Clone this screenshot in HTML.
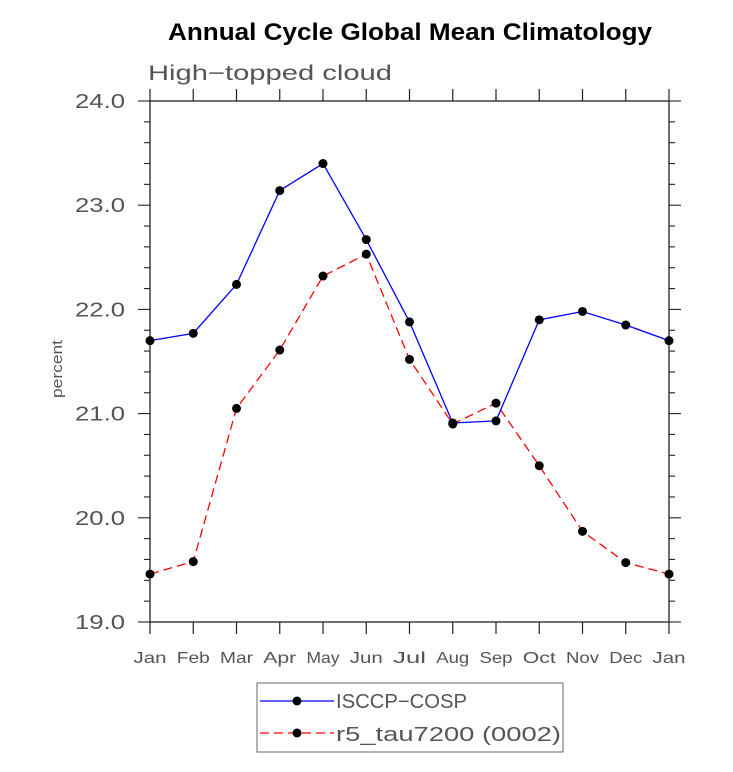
<!DOCTYPE html>
<html><head><meta charset="utf-8"><style>
body{margin:0;background:#fff;}
svg{display:block;font-family:"Liberation Sans",sans-serif;}
</style></head><body>
<svg id="c" width="733" height="772">
<text x="168" y="40" textLength="484" lengthAdjust="spacingAndGlyphs" font-size="24" font-weight="bold">Annual Cycle Global Mean Climatology</text>
<text x="148" y="80" textLength="244" lengthAdjust="spacingAndGlyphs" font-size="21" fill="#555">High−topped cloud</text>
<text transform="translate(62,369) rotate(-90)" text-anchor="middle" font-size="15" fill="#555" textLength="58" lengthAdjust="spacingAndGlyphs">percent</text>
<g id="ax"></g><g id="ser"></g>
<rect x="257" y="683" width="306" height="69" fill="none" stroke="#666"/>
<g>
<line x1="260" y1="701" x2="334" y2="701" stroke="#00f" stroke-width="1.3"/>
<circle cx="297" cy="701" r="4.5" fill="#000"/>
<text x="336" y="708" font-size="20" fill="#555" textLength="131" lengthAdjust="spacingAndGlyphs">ISCCP−COSP</text></g>
<g>
<line x1="260" y1="733" x2="334" y2="733" stroke="#f00" stroke-width="1.3" stroke-dasharray="9,5"/>
<circle cx="297" cy="733" r="4.5" fill="#000"/>
<text x="336" y="741" font-size="20" fill="#555" textLength="225" lengthAdjust="spacingAndGlyphs">r5_tau7200 (0002)</text></g>
</svg>
<script>
const months=["Jan","Feb","Mar","Apr","May","Jun","Jul","Aug","Sep","Oct","Nov","Dec","Jan"];
const isccp=[21.70,21.77,22.24,23.14,23.40,22.67,21.88,20.91,20.93,21.90,21.98,21.85,21.70];
const r5=[19.46,19.58,21.05,21.61,22.32,22.53,21.52,20.90,21.10,20.50,19.87,19.57,19.46];
const yTicks=[19.0,20.0,21.0,22.0,23.0,24.0];
const NS="http://www.w3.org/2000/svg";
const L=150,R=669,T=101,B=622,ymin=19,ymax=24;
const xs=i=>L+i*(R-L)/12;
const ys=v=>B-(v-ymin)/(ymax-ymin)*(B-T);
function mk(t,a,p){const e=document.createElementNS(NS,t);for(const k in a)e.setAttribute(k,a[k]);p.appendChild(e);return e;}
const ax=document.getElementById('ax'),ser=document.getElementById('ser');
const fr=mk('rect',{x:L,y:T,width:R-L,height:B-T,fill:'none',stroke:'#222','stroke-width':1.3},ax);


months.forEach((m,i)=>{
  const x=xs(i);
  mk('line',{x1:x,y1:B,x2:x,y2:B+12,stroke:'#222','stroke-width':1.2},ax);
  mk('line',{x1:x,y1:T,x2:x,y2:T-12,stroke:'#222','stroke-width':1.2},ax);
  const t=mk('text',{x:x,y:B+41,'text-anchor':'middle','font-size':16,fill:'#555',textLength:m.length*11,lengthAdjust:'spacingAndGlyphs'},ax);
  t.textContent=m;
  
  
});
for(let v=ymin;v<=ymax+1e-9;v+=0.2){
  const y=ys(v),maj=Math.abs(v-Math.round(v))<1e-6;
  const len=maj?12:6;
  mk('line',{x1:L-len,y1:y,x2:L,y2:y,stroke:'#222','stroke-width':1.1},ax);
  mk('line',{x1:R+len,y1:y,x2:R,y2:y,stroke:'#222','stroke-width':1.1},ax);
}
yTicks.forEach(v=>{
  const t=mk('text',{x:L-75,y:ys(v)+7,'font-size':20,fill:'#555',textLength:50,lengthAdjust:'spacingAndGlyphs'},ax);
  t.textContent=v.toFixed(1);
  
  
});
function series(d,col,dash,name){
  const g=mk('g',{},ser);
  
  
  mk('polyline',{points:d.map((v,i)=>xs(i)+','+ys(v)).join(' '),fill:'none',stroke:col,'stroke-width':1.3,'stroke-dasharray':dash},g);
  d.forEach((v,i)=>{const c=mk('circle',{cx:xs(i),cy:ys(v),r:4.5,fill:'#000'},g);
    
    });
}
series(r5,'#f00','9,5','series-r5-tau7200');
series(isccp,'#00f','none','series-isccp-cosp');
</script>
</body></html>
